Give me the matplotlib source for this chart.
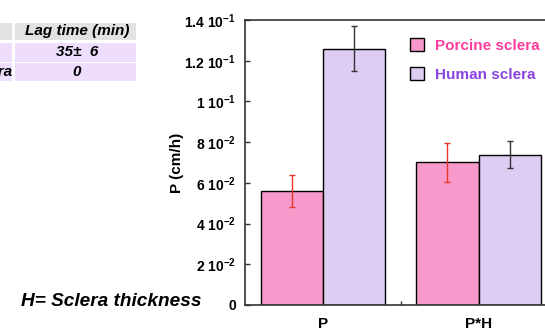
import numpy as np
import matplotlib.pyplot as plt
from matplotlib.patches import Rectangle, Patch

plt.rcParams['font.family'] = ['Liberation Sans', 'DejaVu Sans']
plt.rcParams['font.weight'] = 'bold'
plt.rcParams['mathtext.fontset'] = 'custom'
plt.rcParams['mathtext.rm'] = 'Liberation Sans:bold'
plt.rcParams['mathtext.default'] = 'rm'

# data
groups = ['P', 'P*H']
porcine = [0.056, 0.0701]
porcine_err = [0.0077, 0.0095]
human = [0.1259, 0.0738]
human_err = [0.0111, 0.0067]
yticks = [0, 0.02, 0.04, 0.06, 0.08, 0.10, 0.12, 0.14]
ytick_labels = ['0', '2 10$^{-2}$', '4 10$^{-2}$', '6 10$^{-2}$', '8 10$^{-2}$',
                '1 10$^{-1}$', '1.2 10$^{-1}$', '1.4 10$^{-1}$']
# table partly cut off at the left edge: only the tail of the last row label shows
table_header = ['', 'Lag time (min)']
table_rows = [['', '35±  6'], ['Human sclera', '0']]

W, H = 545, 331
fig = plt.figure(figsize=(W / 100, H / 100), dpi=100)
ax = fig.add_axes([245 / W, 1 - 305 / H, 311.5 / W, 285 / H])

pink = '#F79ACB'
lav = '#DDCDF3'
x = np.arange(len(groups))
w = 0.4
ax.bar(x - w / 2, porcine, w, color=pink, edgecolor='black', linewidth=1)
ax.bar(x + w / 2, human, w, color=lav, edgecolor='black', linewidth=1)
ax.errorbar(x - w / 2, porcine, yerr=porcine_err, fmt='none', ecolor='#E8352B',
            elinewidth=1, capsize=2, capthick=1)
ax.errorbar(x + w / 2, human, yerr=human_err, fmt='none', ecolor='#333333',
            elinewidth=1, capsize=2, capthick=1)

ax.set_xlim(-0.5, 1.5)
ax.set_ylim(0, 0.14)
ax.set_yticks(yticks, ytick_labels, fontsize=10)
ax.set_xticks(x, groups, fontsize=11)
ax.set_xticks([0.5], minor=True)
ax.tick_params(axis='y', direction='in', length=3.5, width=1, pad=6.5, color='#333333')
ax.tick_params(axis='x', which='major', length=0, pad=9)
ax.tick_params(axis='x', which='minor', direction='in', length=3, width=1, color='#333333')
for s in ax.spines.values():
    s.set_color('#333333')
    s.set_linewidth(1.2)
ax.set_ylabel('P (cm/h)', fontsize=11, fontweight='bold', labelpad=0)

handles = [Patch(facecolor=pink, edgecolor='black', label='Porcine sclera'),
           Patch(facecolor=lav, edgecolor='black', label='Human sclera')]
leg = fig.legend(handles=handles, loc='upper left', bbox_to_anchor=(410 / W, 1 - 38.5 / H),
                 frameon=False, fontsize=11, handlelength=0.92, handleheight=0.85,
                 handletextpad=0.7, labelspacing=0.95, borderpad=0, borderaxespad=0)
for t, c in zip(leg.get_texts(), ['#FF3C9B', '#8844E0']):
    t.set_color(c)
    t.set_fontweight('bold')

# table in top-left corner
col_x = [-60, 15]
col_w = [72, 121]
row_y = [23, 42.5, 63]
row_h = [17, 19, 18]
for r in range(3):
    for c in range(2):
        fc = '#E2E2E2' if r == 0 else '#EEDDFD'
        fig.patches.append(Rectangle((col_x[c] / W, 1 - (row_y[r] + row_h[r]) / H),
                                     col_w[c] / W, row_h[r] / H, facecolor=fc,
                                     edgecolor='none', transform=fig.transFigure))
cells = [table_header] + table_rows
for r, row in enumerate(cells):
    yc = 1 - (row_y[r] + row_h[r] / 2) / H
    if row[0]:
        fig.text(-88 / W, yc, row[0], ha='left', va='center', fontsize=11,
                 fontstyle='italic', fontweight='bold')
    fig.text(77 / W, yc, row[1], ha='center', va='center', fontsize=11,
             fontstyle='italic', fontweight='bold')

fig.text(21 / W, 1 - 302 / H, 'H= Sclera thickness', ha='left', va='center',
         fontsize=13.7, fontstyle='italic', fontweight='bold')

fig.savefig('out.png', dpi=100)
